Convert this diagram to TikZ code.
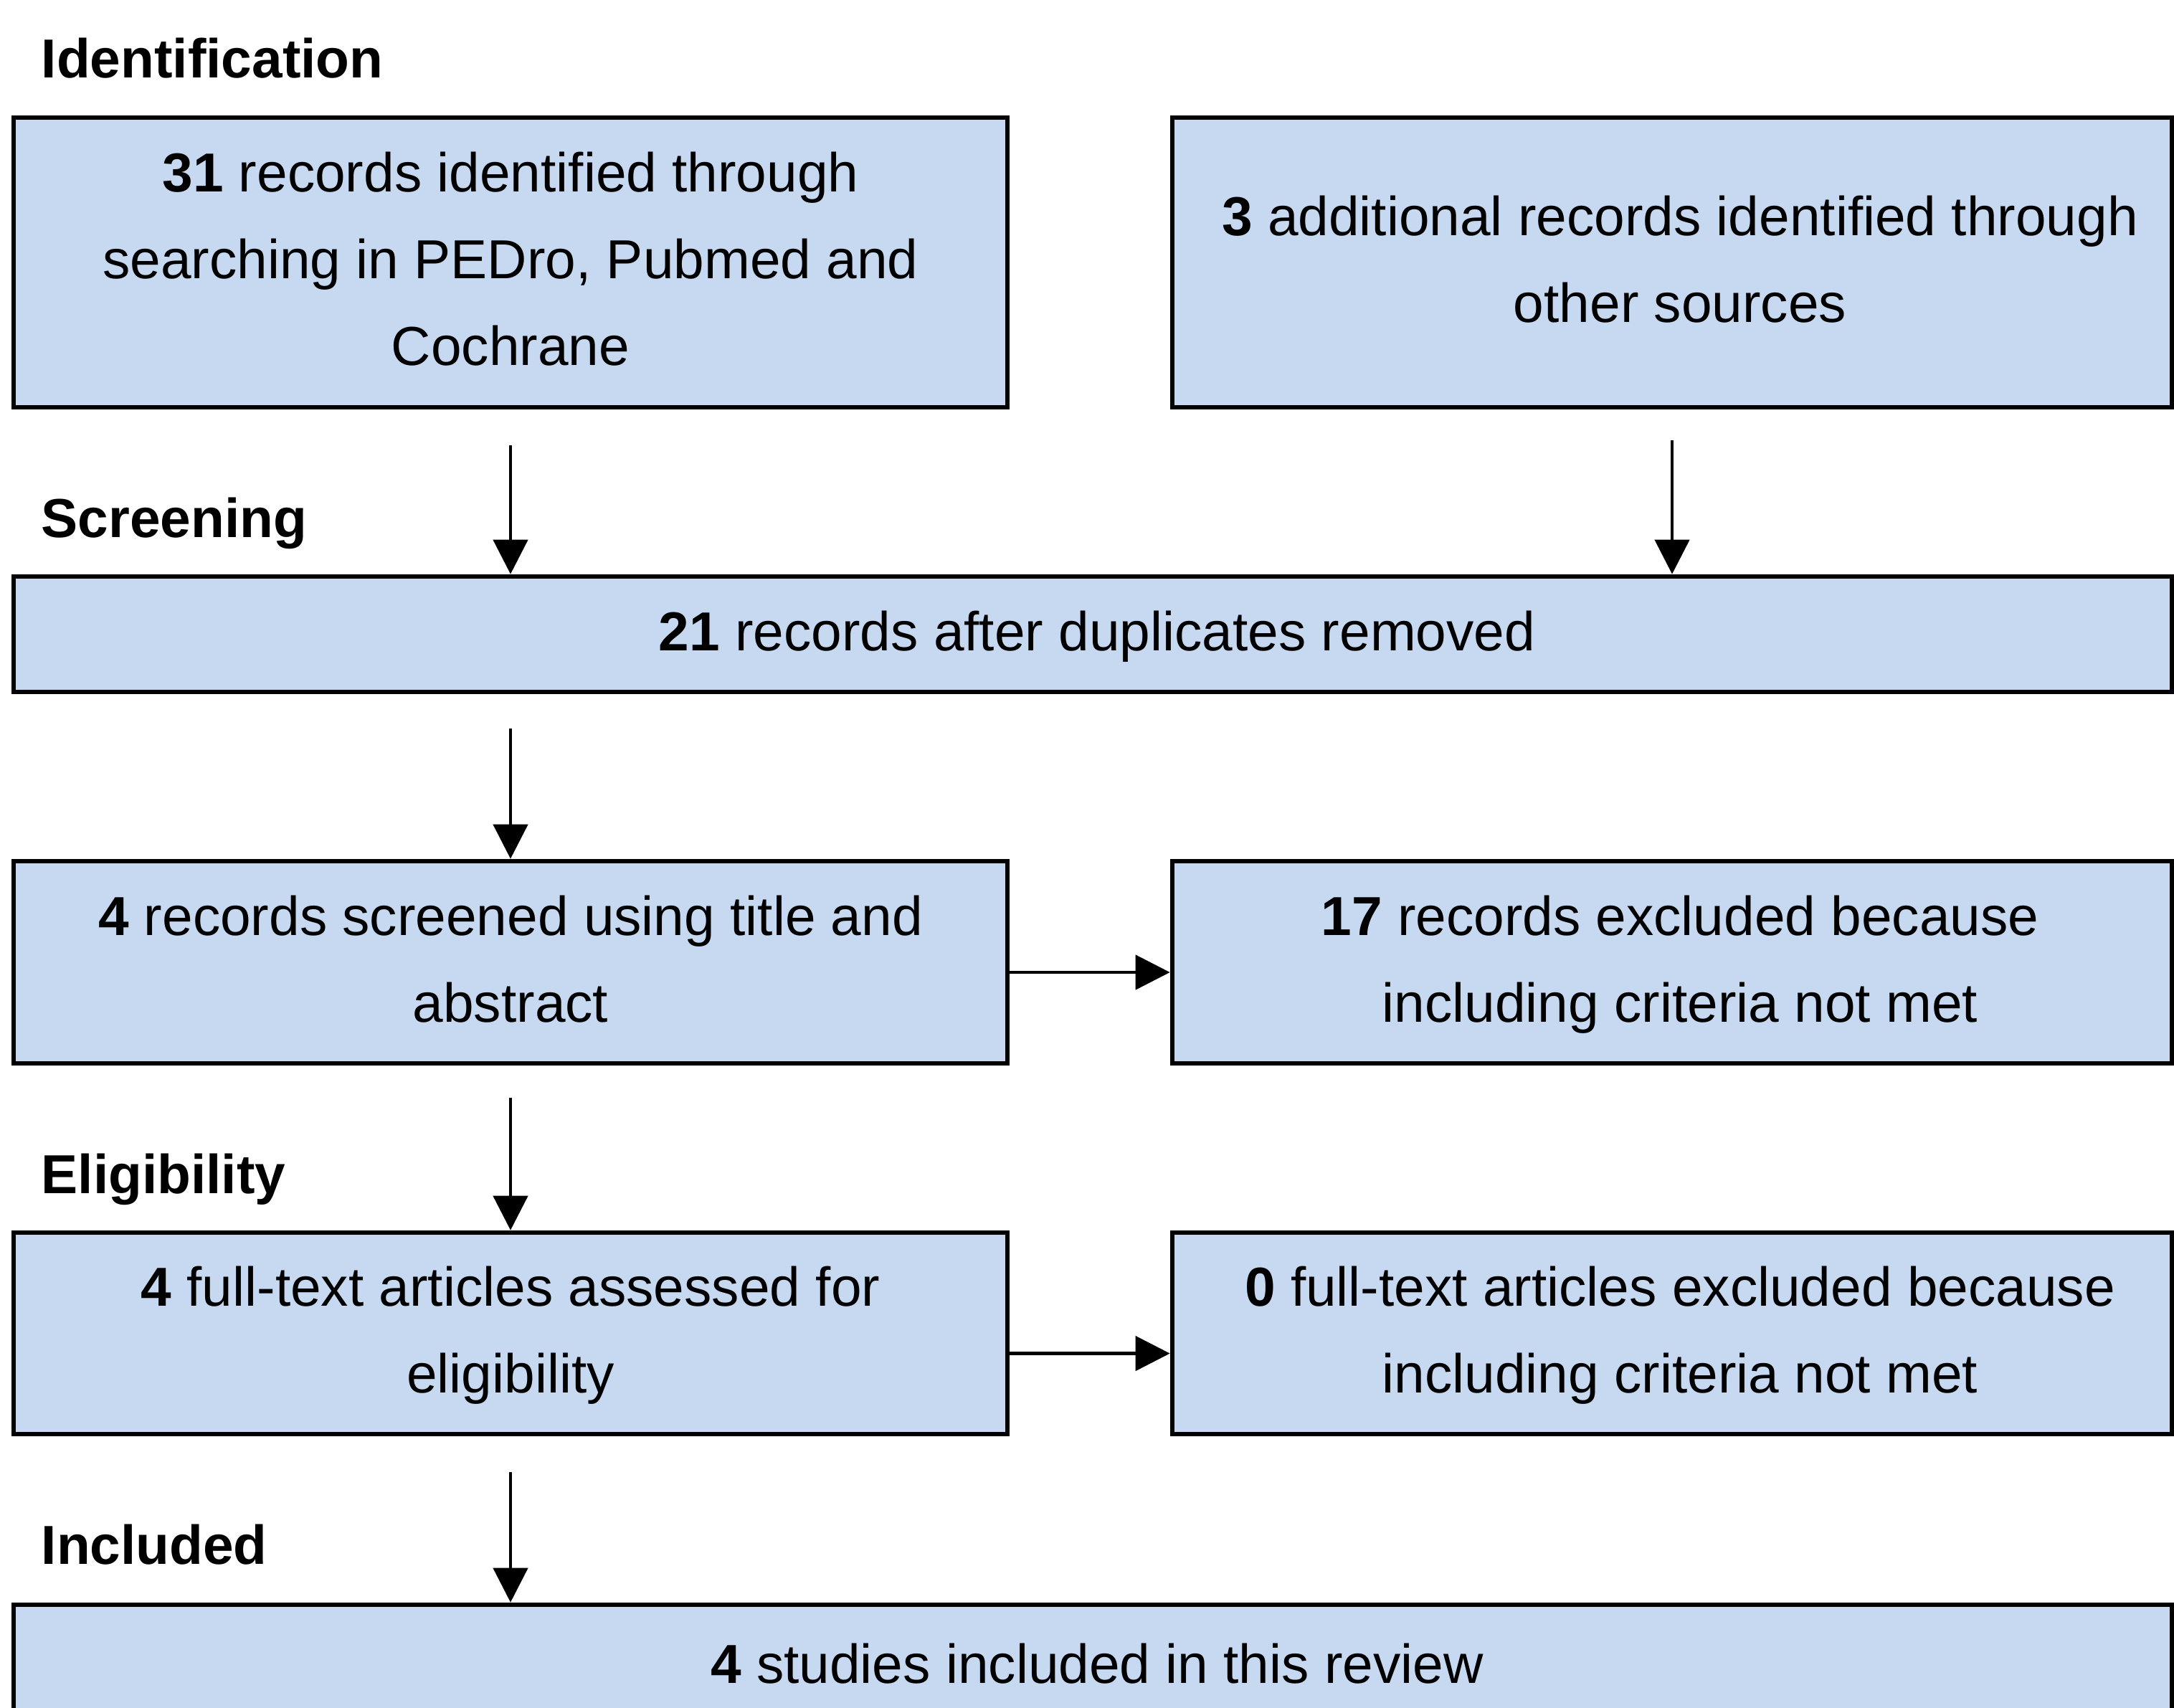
\documentclass[tikz,border=0pt]{standalone}
\usepackage{fontspec}
\setmainfont{Liberation Sans}
\usetikzlibrary{arrows.meta}
\definecolor{boxblue}{RGB}{198,217,240}
% line strut, and the same with a small lead-in for off-centre boxes
\newcommand{\lnS}{\rule[-5pt]{0pt}{23pt}}
\newcommand{\lnR}{\lnS\hspace*{2.2mm}}
\newcommand{\lnW}{\lnS\hspace*{1.2mm}}

\begin{document}
\begin{tikzpicture}[
        box/.style={draw, rectangle, fill=boxblue, line width=1.9pt, inner sep=0pt,
            align=center, font={\fontsize{21.8}{34.4}\selectfont}},
        phase/.style={anchor=base west, inner sep=0pt,
            font={\fontsize{21.8}{26}\selectfont\bfseries}},
        arr/.style={-{Triangle[length=4.8mm,width=4.8mm]}, line width=1.3pt}
    ]
        \clip (0,0) rectangle (30.32,-23.81);

        % Phase labels
        \node[phase] (lblId) at (0.57,-1.08) {Identification};
        \node[phase] (lblScr) at (0.57,-7.49) {Screening};
        \node[phase] (lblElig) at (0.57,-16.64) {Eligibility};
        \node[phase] (lblIncl) at (0.57,-21.81) {Included};

        % Boxes
        \node[box, minimum width=13.86cm, minimum height=4.04cm] (idA) at (7.12,-3.66)
            {\lnS\textbf{31} records identified through\\\lnS searching in PEDro, Pubmed and\\\lnS Cochrane};
        \node[box, minimum width=13.94cm, minimum height=4.04cm] (idB) at (23.32,-3.66)
            {\lnR\textbf{3} additional records identified through\\\lnR other sources};
        \node[box, minimum width=30.1cm, minimum height=1.61cm] (dup) at (15.24,-8.845)
            {\lnW\textbf{21} records after duplicates removed};
        \node[box, minimum width=13.86cm, minimum height=2.82cm] (scr) at (7.12,-13.42)
            {\lnS\textbf{4} records screened using title and\\\lnS abstract};
        \node[box, minimum width=13.94cm, minimum height=2.82cm] (exScr) at (23.32,-13.42)
            {\lnR\textbf{17} records excluded because\\\lnR including criteria not met};
        \node[box, minimum width=13.86cm, minimum height=2.81cm] (elig) at (7.12,-18.595)
            {\lnS\textbf{4} full-text articles assessed for\\\lnS eligibility};
        \node[box, minimum width=13.94cm, minimum height=2.81cm] (exElig) at (23.32,-18.595)
            {\lnR\textbf{0} full-text articles excluded because\\\lnR including criteria not met};
        \node[box, minimum width=30.1cm, minimum height=1.73cm] (incl) at (15.24,-23.245)
            {\lnW\textbf{4} studies included in this review};

        % Arrows
        \draw[arr, shorten <=5mm] (idA.south) -- (idA.south |- dup.north);
        \draw[arr, shorten <=4.3mm] (idB.south) -- (idB.south |- dup.north);
        \draw[arr, shorten <=4.8mm] (dup.south -| scr.north) -- (scr.north);
        \draw[arr, shorten <=4.5mm] (scr.south) -- (elig.north);
        \draw[arr, shorten <=5mm] (elig.south) -- (elig.south |- incl.north);
        \draw[arr] ([yshift=-1.4mm]scr.east) -- ([yshift=-1.4mm]exScr.west);
        \draw[arr] ([yshift=-2.8mm]elig.east) -- ([yshift=-2.8mm]exElig.west);
    \end{tikzpicture}
\end{document}
